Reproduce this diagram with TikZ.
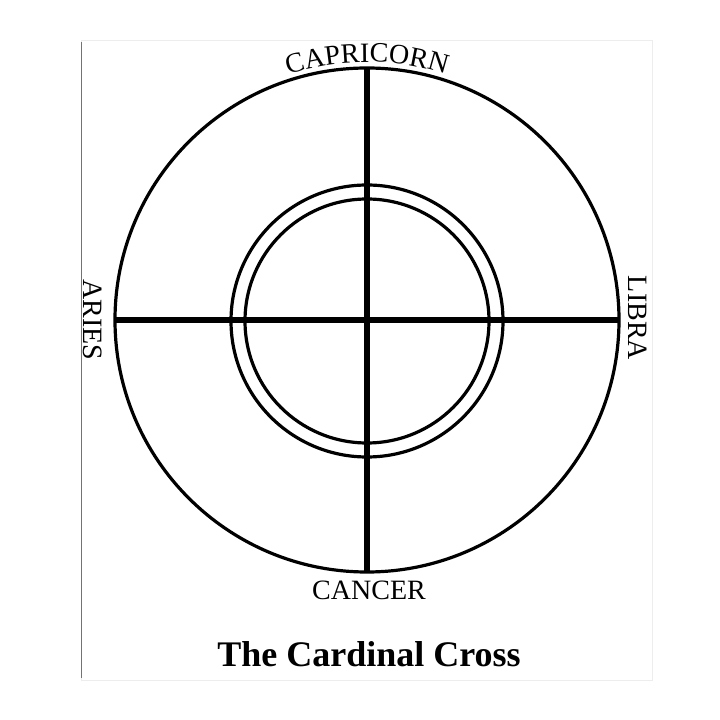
\documentclass[tikz,border=0pt]{standalone}
\usepackage{fontspec}
\setmainfont{Liberation Serif}
\usetikzlibrary{decorations.text}
\newcommand{\signtype}{\fontsize{28}{32}\selectfont}
\newcommand{\titletype}{\fontsize{36}{40}\selectfont\bfseries}
\tikzset{
  ring/.style={draw,circle,line width=3.2pt,outer sep=0pt,inner sep=0pt},
  bar/.style={line width=5.5pt},
  sign/.style={font=\signtype,inner sep=0pt}
}
\begin{document}
\begin{tikzpicture}[x=1pt,y=1pt]
  \useasboundingbox (0,0) rectangle (720,720);
  % scanned page edge
  \draw[black!7] (81,680) rectangle (652,40);
  \draw[black!55,line width=0.8pt] (81,678) -- (81,42);
  % circles
  \node[ring,minimum size=504] (rim) at (367,400) {};
  \node[ring,minimum size=272] (band) at (367,399) {};
  \node[ring,minimum size=244] (core) at (367,399) {};
  % the cross
  \draw[bar] (rim.north) -- (rim.south);
  \draw[bar] (rim.west) -- (rim.east);
  % signs
  \path[decorate,decoration={text along path,text align=center,
      text={|\signtype|CAPRICORN}}]
    (367,400) ++(150:258) arc[start angle=150,end angle=30,radius=258];
  \node[sign,rotate=-90] (aries) at (93,400) {ARIES};
  \node[sign,rotate=-90] (libra) at (638,402) {LIBRA};
  \node[sign,anchor=base] (cancer) at (369,120) {CANCER};
  \node[font=\titletype,anchor=base,inner sep=0pt] (title) at (369,53) {The Cardinal Cross};
\end{tikzpicture}
\end{document}
